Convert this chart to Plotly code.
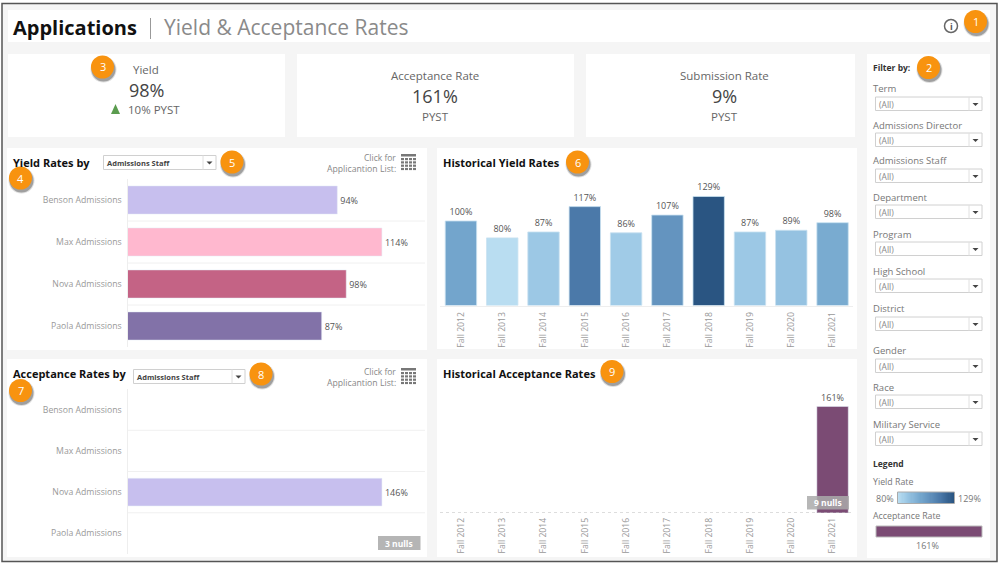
import plotly.graph_objects as go

FONT = "Open Sans"

# chart values
staff = ["Benson Admissions", "Max Admissions", "Nova Admissions", "Paola Admissions"]
staff_yield = [94, 114, 98, 87]
staff_colors = ["#C7BFEE", "#FFB8CF", "#C46385", "#8272A8"]
staff_accept = [None, None, 146, None]

terms = ["Fall 2012", "Fall 2013", "Fall 2014", "Fall 2015", "Fall 2016",
         "Fall 2017", "Fall 2018", "Fall 2019", "Fall 2020", "Fall 2021"]
hist_yield = [100, 80, 87, 117, 86, 107, 129, 87, 89, 98]
hist_accept = [None, None, None, None, None, None, None, None, None, 161]

legend_steps = list(range(80, 130))

filter_labels = ["Term", "Admissions Director", "Admissions Staff", "Department", "Program",
                 "High School", "District", "Gender", "Race", "Military Service"]
filter_label_y = [88, 125, 161, 197, 234, 271, 308, 350, 387, 424]
filter_box_y = [97, 133, 169, 205, 242, 279, 317, 359, 395, 432]

badges = [("1", 975.5, 21.5), ("2", 928.5, 67.5), ("3", 102.5, 67), ("4", 20.5, 178), ("5", 232, 162),
          ("6", 577.5, 162), ("7", 20.5, 390.5), ("8", 261, 374), ("9", 612, 371.5)]

blues = [[0, "#B9DDF1"], [0.14, "#9CC8E5"], [0.41, "#73A5CC"], [0.55, "#6494BF"],
         [0.76, "#4A78A8"], [1, "#2A5582"]]
PURPLE = "#7B4B74"


def px(x):
    return x / 1000


def py(y):
    return 1 - y / 565


shapes = []
notes = []


def box(x0, y0, x1, y1, fill="white", line=None, width=1, layer="below"):
    shapes.append(dict(type="rect", xref="paper", yref="paper", x0=px(x0), x1=px(x1), y0=py(y0), y1=py(y1),
                       fillcolor=fill, line=dict(color=line, width=width if line else 0), layer=layer))


def seg(x0, y0, x1, y1, color, width=1, dash="solid", layer="below"):
    shapes.append(dict(type="line", xref="paper", yref="paper", x0=px(x0), x1=px(x1), y0=py(y0), y1=py(y1),
                       line=dict(color=color, width=width, dash=dash), layer=layer))


def label(txt, x, y, size=9, color="#888888", anchor="left", bold=False):
    # annotations carry about 2px of padding, take it back out
    nudge = {"left": -2, "right": 2, "center": 0}[anchor]
    notes.append(dict(text=f"<b>{txt}</b>" if bold else txt, xref="paper", yref="paper", x=px(x + nudge), y=py(y),
                      xanchor=anchor, yanchor="middle", showarrow=False,
                      font=dict(family=FONT, size=size, color=color)))


def arrow(x, y, size=3, color="#444444"):
    shapes.append(dict(type="path", xref="paper", yref="paper", layer="above", fillcolor=color, line=dict(width=0),
                       path=f"M{px(x - size)},{py(y - 1)} L{px(x + size)},{py(y - 1)} L{px(x)},{py(y + 2)} Z"))


def dropdown(x0, y0, x1, y1, txt, bold=False, color="#888888", size=8.5):
    box(x0, y0, x1, y1, "white", "#D0D0D0")
    seg(x1 - 13, y0, x1 - 13, y1, "#E0E0E0")
    arrow(x1 - 6.5, y0 + 7)
    label(txt, x0 + 3, y0 + 7.5, size, color, bold=bold)


def table_icon(x0, y0):
    box(x0, y0, x0 + 15, y0 + 2.5, "#777777")
    for r in range(4):
        for c in range(4):
            box(x0 + c * 4, y0 + 4 + r * 3.3, x0 + c * 4 + 3, y0 + 6.2 + r * 3.3, "#777777")


# page + panels
box(2, 3.5, 997, 561.5, "#F5F5F5", "#555555", 1.5)
box(8, 10, 990, 42)
for x0, x1 in [(8, 285), (297, 574), (586, 855)]:
    box(x0, 54, x1, 137)
box(867, 54, 990, 558)
box(7, 148, 427, 350)
box(437, 148, 857, 349)
box(7, 359, 427, 557)
box(437, 359, 857, 557)

# header
label("Applications", 13, 27.5, 20, "#111111", bold=True)
seg(150.5, 18, 150.5, 39, "#999999")
label("Yield &amp; Acceptance Rates", 164, 27.5, 21, "#8A8A8A")
shapes.append(dict(type="circle", xref="paper", yref="paper", x0=px(944.5), x1=px(957.5), y0=py(32.5), y1=py(19.5),
                   line=dict(color="#666666", width=1.5), fillcolor="white", layer="below"))
label("i", 951, 26, 9, "#555555", "center", True)

# KPI cards
label("Yield", 146, 70, 11.5, "#666666", "center")
label("98%", 146, 90, 18, "#444444", "center")
label("10% PYST", 128, 109, 11.5, "#666666")
shapes.append(dict(type="path", xref="paper", yref="paper", fillcolor="#5B9C4F", line=dict(width=0),
                   path=f"M{px(111)},{py(114)} L{px(120)},{py(114)} L{px(115.5)},{py(104)} Z"))
label("Acceptance Rate", 435, 76, 11.5, "#666666", "center")
label("161%", 435, 96, 18, "#444444", "center")
label("PYST", 435, 116, 11.5, "#666666", "center")
label("Submission Rate", 724, 76, 11.5, "#666666", "center")
label("9%", 724, 96, 18, "#444444", "center")
label("PYST", 724, 116, 11.5, "#666666", "center")

# panel headers
label("Yield Rates by", 13, 162, 11, "#111111", bold=True)
dropdown(103.5, 155.5, 216, 169.5, "Admissions Staff", True, "#444444", 7.5)
label("Click for", 396, 157, 8.5, "#888888", "right")
label("Applicantion List:", 396, 169, 8.7, "#888888", "right")
table_icon(401, 154)

label("Acceptance Rates by", 13, 373.5, 11, "#111111", bold=True)
dropdown(133.5, 369.5, 245, 383.5, "Admissions Staff", True, "#444444", 7.5)
label("Click for", 396, 371.5, 8.5, "#888888", "right")
label("Applicantion List:", 396, 383, 8.7, "#888888", "right")
table_icon(401, 368)

label("Historical Yield Rates", 443, 162, 11, "#111111", bold=True)
label("Historical Acceptance Rates", 443, 373.5, 11, "#111111", bold=True)

# filter column
label("Filter by:", 873, 67.5, 8.5, "#333333", bold=True)
for name, ly, by in zip(filter_labels, filter_label_y, filter_box_y):
    label(name, 873, ly, 9.5, "#777777")
    dropdown(875.5, by, 982, by + 13.5, "(All)", False, "#888888", 8.5)

# legend column
label("Legend", 873, 463, 8.5, "#333333", bold=True)
label("Yield Rate", 873, 482, 8.8, "#777777")
label("80%", 894, 498, 9, "#777777", "right")
label("129%", 958, 498, 9, "#777777")
box(897.5, 492, 954.5, 503.5, "rgba(0,0,0,0)", "#AAAAAA", 1, "above")
label("Acceptance Rate", 873, 516, 8.8, "#777777")
box(876, 526, 982, 537, PURPLE, "#BBBBBB")
label("161%", 927, 545, 9, "#777777", "center")

# row separators on the staff charts
for cut in [0.5, 1.5, 2.5]:
    shapes.append(dict(type="line", xref="paper", yref="y", x0=px(127.5), x1=px(425), y0=cut, y1=cut,
                       line=dict(color="#F0F0F0", width=1), layer="below"))
    shapes.append(dict(type="line", xref="paper", yref="y3", x0=px(127.5), x1=px(425), y0=cut, y1=cut,
                       line=dict(color="#F0F0F0", width=1), layer="below"))

# dotted zero line under historical acceptance
shapes.append(dict(type="line", xref="paper", yref="y4", x0=px(440), x1=px(853), y0=0, y1=0,
                   line=dict(color="#BBBBBB", width=1, dash="dot"), layer="above"))

# null chips
box(378, 536, 420.5, 550, "#B5B5B5", layer="above")
label("3 nulls", 399, 543, 8.5, "white", "center", True)
box(807, 496, 849, 509.5, "rgba(170,170,170,0.85)", layer="above")
label("9 nulls", 828, 502.5, 8.5, "white", "center", True)

# numbered callouts
for num, cx, cy in badges:
    for grow, alpha in [(1.5, 0.15), (0.5, 0.35)]:
        shapes.append(dict(type="circle", xref="paper", yref="paper", layer="above",
                           x0=px(cx - 11.5 - grow + 1), x1=px(cx + 11.5 + grow + 1),
                           y0=py(cy + 11.5 + grow + 2.5), y1=py(cy - 11.5 - grow + 2.5),
                           fillcolor=f"rgba(40,40,40,{alpha})", line=dict(width=0)))
    shapes.append(dict(type="circle", xref="paper", yref="paper", layer="above",
                       x0=px(cx - 11.5), x1=px(cx + 11.5), y0=py(cy + 11.5), y1=py(cy - 11.5),
                       fillcolor="#F8930F", line=dict(width=0)))
    label(num, cx, cy, 11, "white", "center")

fig = go.Figure()

# yield by staff
fig.add_trace(go.Bar(x=staff_yield, y=staff, orientation="h", width=0.67, xaxis="x", yaxis="y",
                     marker=dict(color=staff_colors), text=staff_yield, texttemplate="%{text}%",
                     textposition="outside", cliponaxis=False,
                     textfont=dict(family=FONT, size=9, color="#555555")))
# historical yield
fig.add_trace(go.Bar(x=terms, y=hist_yield, width=0.76, xaxis="x2", yaxis="y2",
                     marker=dict(color=hist_yield, colorscale=blues, cmin=80, cmax=129,
                                 line=dict(color="rgba(200,225,240,0.8)", width=1)),
                     text=hist_yield, texttemplate="%{text}%", textposition="outside", cliponaxis=False,
                     textfont=dict(family=FONT, size=9, color="#555555")))
# acceptance by staff
fig.add_trace(go.Bar(x=staff_accept, y=staff, orientation="h", width=0.67, xaxis="x3", yaxis="y3",
                     marker=dict(color="#C7BFEE"), text=staff_accept, texttemplate="%{text}%",
                     textposition="outside", cliponaxis=False,
                     textfont=dict(family=FONT, size=9, color="#555555")))
# historical acceptance
fig.add_trace(go.Bar(x=terms, y=hist_accept, width=0.76, xaxis="x4", yaxis="y4",
                     marker=dict(color=PURPLE), text=hist_accept, texttemplate="%{text}%",
                     textposition="outside", cliponaxis=False,
                     textfont=dict(family=FONT, size=9, color="#555555")))
# yield legend ramp
fig.add_trace(go.Heatmap(z=[legend_steps], x=legend_steps, y=["Yield Rate"], xaxis="x5", yaxis="y5",
                         colorscale=blues, zmin=80, zmax=129, showscale=False))

staff_y = dict(type="category", autorange="reversed", showgrid=False, zeroline=False, showline=True,
               linecolor="#EEEEEE", ticks="", ticklabelstandoff=3, tickfont=dict(family=FONT, size=8.7, color="#999999"))
staff_x = dict(visible=False, showgrid=False, zeroline=False)
term_x = dict(type="category", showgrid=False, zeroline=False, showline=True, linecolor="#EEEEEE", tickangle=-90,
              ticks="", ticklabelstandoff=2, tickfont=dict(family=FONT, size=8.7, color="#999999"))
term_y = dict(visible=False, showgrid=False, zeroline=False)

fig.update_layout(
    width=1000, height=565, margin=dict(l=0, r=0, t=0, b=0), showlegend=False,
    paper_bgcolor="white", plot_bgcolor="rgba(0,0,0,0)", font=dict(family=FONT),
    shapes=shapes, annotations=notes,
    xaxis=dict(staff_x, domain=[px(127.5), px(425)], range=[0, 133.3], anchor="y"),
    yaxis=dict(staff_y, domain=[py(347), py(179)], anchor="x"),
    xaxis2=dict(term_x, domain=[px(440.3), px(853.2)], anchor="y2"),
    yaxis2=dict(term_y, domain=[py(305.5), py(180)], range=[0, 148.5], anchor="x2"),
    xaxis3=dict(staff_x, domain=[px(127.5), px(425)], range=[0, 170.7], anchor="y3"),
    yaxis3=dict(staff_y, domain=[py(554), py(389)], anchor="x3"),
    xaxis4=dict(term_x, domain=[px(440.3), px(853.2)], anchor="y4", showline=False),
    yaxis4=dict(term_y, domain=[py(513), py(385)], range=[0, 193.5], anchor="x4"),
    xaxis5=dict(visible=False, domain=[px(898), px(954)], anchor="y5"),
    yaxis5=dict(visible=False, domain=[py(503), py(492)], anchor="x5"),
)

fig.write_html("out.html", config=dict(displayModeBar=False),
               post_script="document.body.style.margin='0';document.body.style.overflow='hidden';")
